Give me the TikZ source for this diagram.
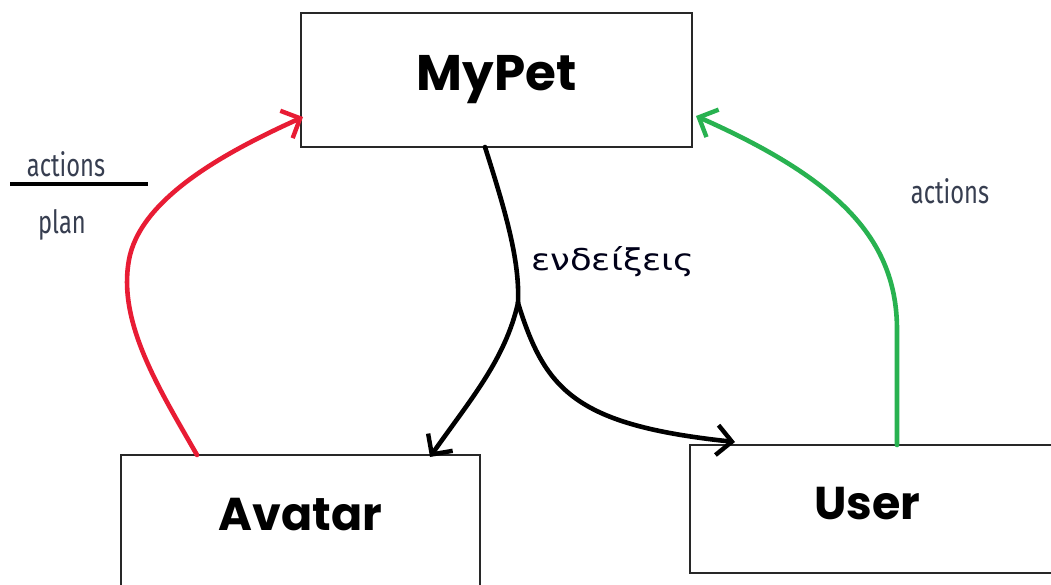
\documentclass[tikz,border=0pt]{standalone}
\usepackage{fontspec}
\usepackage{graphicx}
\usetikzlibrary{arrows.meta}
\newfontfamily\titlefont{Poppins}
\newfontfamily\smallfont{Fira Sans}
\newfontfamily\greekfont{DejaVu Sans}
\definecolor{penred}{RGB}{232,28,52}
\definecolor{pengreen}{RGB}{40,178,80}
\definecolor{labelgray}{RGB}{55,62,80}
\definecolor{boxline}{RGB}{40,40,40}
\tikzset{
  box/.style={draw=boxline, line width=1.3pt, rectangle, inner sep=0pt, font=\titlefont\bfseries\fontsize{46}{46}\selectfont},
  pen/.style={line width=4.6pt, line cap=round, line join=round, -{Straight Barb[length=15pt,width=30pt,line width=4.4pt]}},
  smalllbl/.style={text=labelgray, font=\smallfont\fontsize{32}{32}\selectfont, inner sep=0pt},
}
\begin{document}
\begin{tikzpicture}[x=1pt,y=-1pt]
\useasboundingbox[fill=white] (0,0) rectangle (1051,584);
% boxes
\node[box, minimum width=391pt, minimum height=134pt] (mypet) at (496.5,80) {\fontsize{50}{50}\selectfont\raisebox{3pt}{MyPet}};
\node[box, minimum width=359pt, minimum height=150pt] (avatar) at (300.5,530) {\raisebox{32pt}{Avatar}};
\node[box, minimum width=385pt, minimum height=128pt] (user) at (882.5,509) {\hspace*{-30pt}\raisebox{12pt}{User}};
% connector points
\coordinate (split) at (518,303);
\coordinate (redstart) at (197,455);
\coordinate (redend) at (303,117);
\coordinate (greenstart) at (897,445);
\coordinate (greenend) at (696,116);
\coordinate (blackstart) at (485,147);
\coordinate (avatarin) at (430,457);
\coordinate (userin) at (735,442);
% red arrow
\draw[pen, penred] (redstart) .. controls (160,390) and (115,320) .. (130,255)
   .. controls (145,195) and (230,150) .. (redend);
% green arrow
\draw[pen, pengreen] (greenstart) -- (897,330) .. controls (897,240) and (840,180) .. (greenend);
% black arrows
\draw[line width=4.6pt, line cap=round] (blackstart) .. controls (505,210) and (520,260) .. (split);
\draw[pen, black] (split) .. controls (505,360) and (470,400) .. (avatarin);
\draw[pen, black] (split) .. controls (545,390) and (575,425) .. (userin);
% labels
\node[font=\greekfont\fontsize{30}{30}\selectfont, text=black!90!blue, inner sep=0pt] (endeixeis) at (613,262) {\scalebox{1.18}[1]{ενδείξεις}};
\node[smalllbl] (actR) at (950,191) {\scalebox{0.74}[1]{actions}};
\node[smalllbl] (actL) at (66,164) {\scalebox{0.74}[1]{actions}};
\node[smalllbl] (planL) at (62,225) {\scalebox{0.74}[1]{plan}};
\coordinate (ruleL) at (10,184);
\coordinate (ruleR) at (148,184);
\draw[line width=4pt] (ruleL) -- (ruleR);
\end{tikzpicture}
\end{document}
